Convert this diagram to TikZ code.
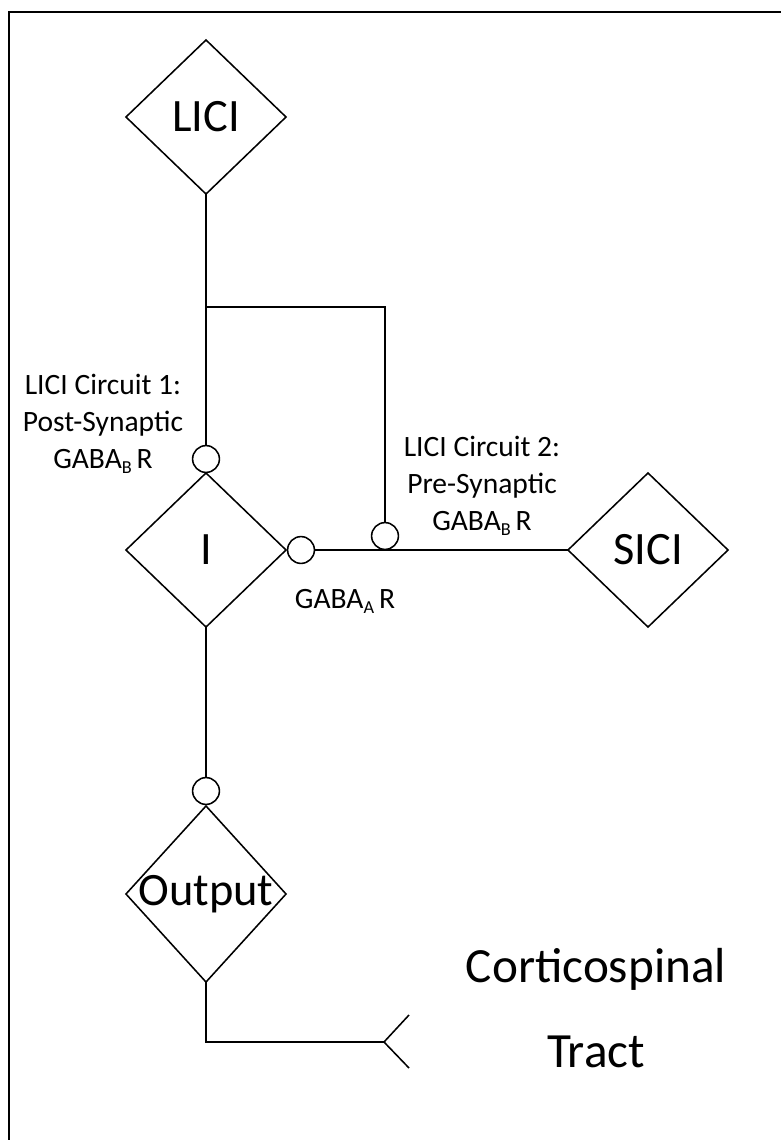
\documentclass[tikz,border=0pt]{standalone}
\usepackage{fontspec}
\setmainfont{Carlito}
\usetikzlibrary{shapes.geometric,positioning}
\newcommand\gsub[1]{\raisebox{-3.5pt}{\fontsize{13}{13}\selectfont #1}}

\begin{document}
\begin{tikzpicture}[x=0.025cm, y=-0.025cm, line width=1.1pt,
  cell/.style={diamond, draw, inner sep=0pt, outer sep=0pt,
               minimum width=4cm, minimum height=3.85cm},
  syn/.style={circle, draw, inner sep=0pt, outer sep=0pt, minimum size=0.67cm},
  bigtext/.style={font=\fontsize{33}{40}\selectfont},
  smalltext/.style={font=\fontsize{21}{26.3}\selectfont, align=center}]
\useasboundingbox (0,0) rectangle (781,1140);
\draw[line width=1.4pt] (9,1140) -- (9,12) -- (781,12);

% cells
\node[cell, label={[bigtext]center:LICI}] (lici) at (206,117) {};
\node[cell, label={[bigtext]center:I}] (inh) at (206,550) {};
\node[cell, label={[bigtext]center:SICI}] (sici) at (648,550) {};
\node[cell, minimum height=4.4cm, label={[bigtext]center:Output}] (out) at (206,894) {};

% synapses
\node[syn] (postB) at (206,459) {};
\node[syn] (gabaA) at (301,550) {};
\node[syn] (preB) at (385,536) {};
\node[syn] (outsyn) at (206,791) {};

% wiring
\coordinate (split) at (206,307);
\coordinate (tip) at (384,1042);
\draw (lici.south) -- (postB.north);
\draw (split) -| (preB.north);
\draw (gabaA.east) -- (sici.west);
\draw (inh.south) -- (outsyn.north);
\draw (out.south) |- (tip);
\draw (tip) -- ++(25,-27) (tip) -- ++(25,26);

% labels
\node[smalltext] (lab1) at (103,424) {LICI Circuit 1:\\Post-Synaptic\\GABA\gsub{B}\,R};
\node[smalltext] (lab2) at (482,486) {LICI Circuit 2:\\Pre-Synaptic\\GABA\gsub{B}\,R};
\node[smalltext] (lab3) at (345,601) {GABA\gsub{A}\,R};
\node[font=\fontsize{35}{42}\selectfont, align=center] (cst) at (596,1008) {Corticospinal\\[18pt]Tract};
\end{tikzpicture}
\end{document}
